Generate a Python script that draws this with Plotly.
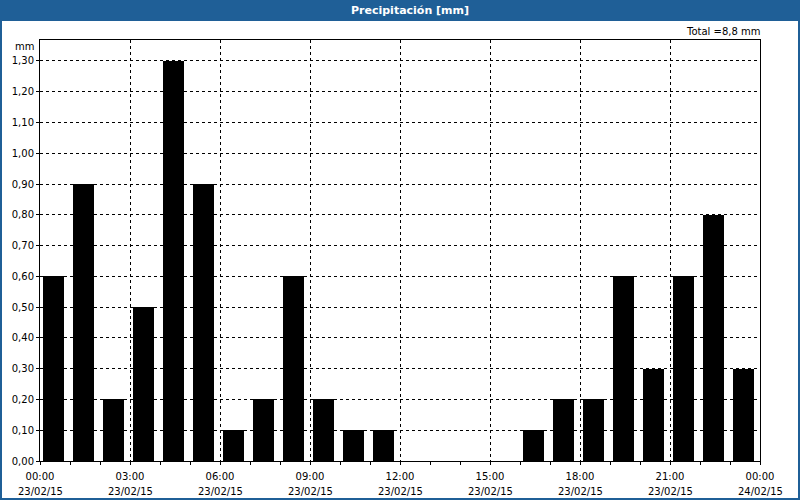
import plotly.graph_objects as go

hours = list(range(24))
precip = [0.6, 0.9, 0.2, 0.5, 1.3, 0.9, 0.1, 0.2, 0.6, 0.2, 0.1, 0.1,
          0.0, 0.0, 0.0, 0.0, 0.1, 0.2, 0.2, 0.6, 0.3, 0.6, 0.8, 0.3]
x_tickvals = [0, 3, 6, 9, 12, 15, 18, 21, 24]
x_times = ["00:00", "03:00", "06:00", "09:00", "12:00", "15:00", "18:00", "21:00", "00:00"]
x_dates = ["23/02/15"] * 8 + ["24/02/15"]
y_tickvals = [round(i * 0.1, 2) for i in range(14)]
y_ticktext = ["0,00", "0,10", "0,20", "0,30", "0,40", "0,50", "0,60", "0,70",
              "0,80", "0,90", "1,00", "1,10", "1,20", "1,30"]
title_text = "Precipitación [mm]"
total_text = "Total =8,8 mm"

W, H = 800, 500
L, R, T, B = 40, 40, 40, 39
pw, ph = W - L - R, H - T - B

def px_x(px):
    return (px - L) / pw

def px_y(py):
    return (H - B - py) / ph

FONT = "DejaVu Sans"
BLUE = "#1f5f97"

fig = go.Figure()
fig.add_trace(go.Bar(
    x=[h + 0.45 for h in hours], y=precip, width=0.7,
    marker=dict(color="black", line=dict(width=0)),
    hoverinfo="skip",
))

annotations = [
    dict(text=f"<b>{title_text}</b>", xref="paper", yref="paper",
         x=px_x(410), y=px_y(10.5), xanchor="center", yanchor="middle",
         showarrow=False, font=dict(family=FONT, size=11, color="white")),
    dict(text=total_text, xref="paper", yref="paper",
         x=px_x(762), y=px_y(32), xanchor="right", yanchor="middle",
         showarrow=False, font=dict(family=FONT, size=10, color="black")),
    dict(text="mm", xref="paper", yref="paper",
         x=px_x(36), y=px_y(46), xanchor="right", yanchor="middle",
         showarrow=False, font=dict(family=FONT, size=10, color="black")),
]
for xv, d in zip(x_tickvals, x_dates):
    annotations.append(dict(text=d, xref="x", yref="paper", x=xv, y=px_y(491),
                            xanchor="center", yanchor="middle", showarrow=False,
                            font=dict(family=FONT, size=10, color="black")))

fig.update_layout(
    width=W, height=H,
    margin=dict(l=L, r=R, t=T, b=B, pad=0),
    paper_bgcolor="white", plot_bgcolor="white",
    showlegend=False, bargap=0,
    font=dict(family=FONT, size=10, color="black"),
    xaxis=dict(
        range=[0, 24], tickmode="array", tickvals=x_tickvals, ticktext=x_times,
        showgrid=True, gridcolor="black", gridwidth=1, griddash="3px,3px",
        showline=True, linecolor="black", linewidth=1, mirror=True,
        ticks="outside", ticklen=3, tickcolor="black", tickwidth=1,
        ticklabelstandoff=3,
        minor=dict(ticks="outside", dtick=1, tick0=0, ticklen=3, tickcolor="black", showgrid=False),
        zeroline=False, fixedrange=True,
        tickfont=dict(family=FONT, size=10, color="black"),
    ),
    yaxis=dict(
        range=[0, 1.368], tickmode="array", tickvals=y_tickvals, ticktext=y_ticktext,
        showgrid=True, gridcolor="black", gridwidth=1, griddash="3px,3px",
        showline=True, linecolor="black", linewidth=1, mirror=True,
        ticks="outside", ticklen=3, tickcolor="black", tickwidth=1,
        zeroline=False, fixedrange=True,
        tickfont=dict(family=FONT, size=10, color="black"),
    ),
    shapes=[
        dict(type="rect", xref="paper", yref="paper",
             x0=px_x(0), x1=px_x(W), y0=px_y(21), y1=px_y(0),
             fillcolor=BLUE, line=dict(width=0), layer="above"),
        dict(type="rect", xref="paper", yref="paper",
             x0=px_x(1), x1=px_x(W - 1), y0=px_y(H - 1), y1=px_y(1),
             fillcolor="rgba(0,0,0,0)", line=dict(color=BLUE, width=2), layer="above"),
    ],
    annotations=annotations,
)

fig.write_html("out.html")
